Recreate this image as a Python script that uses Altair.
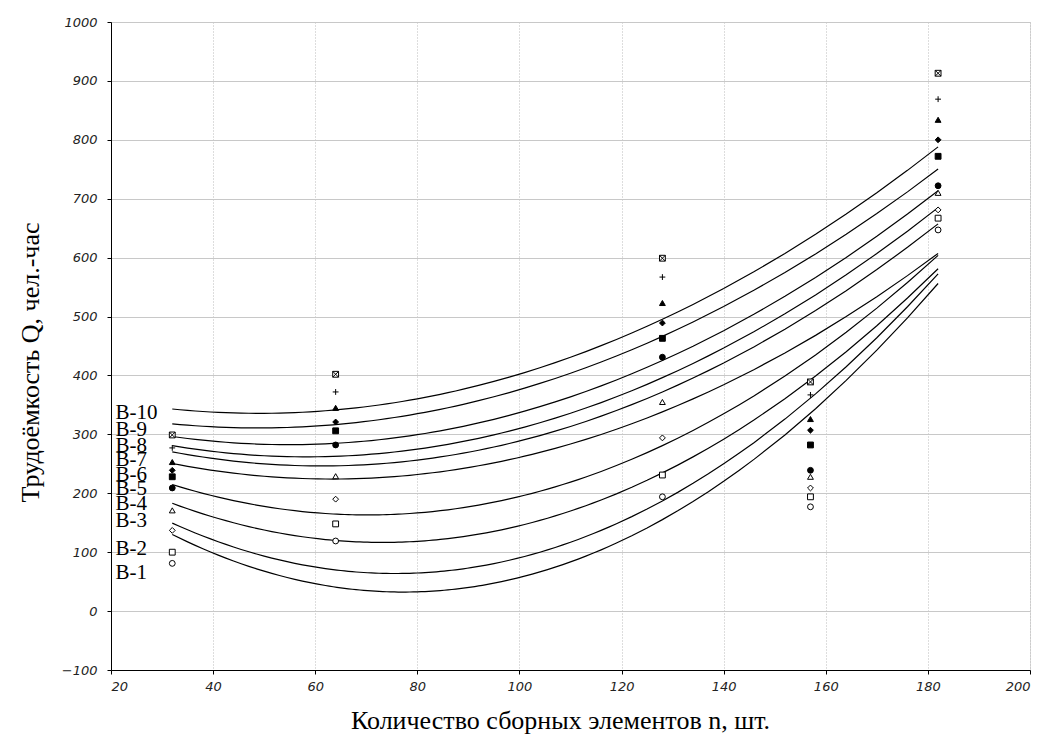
import altair as alt
import pandas as pd

series = ["B-1", "B-2", "B-3", "B-4", "B-5", "B-6", "B-7", "B-8", "B-9", "B-10"]
n_values = [32, 64, 128, 157, 182]

# Трудоёмкость Q (чел.-час) per series at each n
q_b1 = [81, 119, 194, 177, 647]
q_b2 = [100, 148, 231, 194, 667]
q_b3 = [137, 190, 294, 209, 681]
q_b4 = [171, 229, 355, 228, 710]
q_b5 = [209, 282, 431, 239, 722]
q_b6 = [228, 306, 463, 282, 772]
q_b7 = [239, 321, 489, 307, 800]
q_b8 = [253, 345, 523, 326, 834]
q_b9 = [277, 372, 567, 367, 869]
q_b10 = [299, 402, 599, 389, 913]
all_q = [q_b1, q_b2, q_b3, q_b4, q_b5, q_b6, q_b7, q_b8, q_b9, q_b10]

filled = [False, False, False, False, True, True, True, True, False, False]
shapes = [
    "circle", "square", "diamond", "triangle-up", "circle", "square", "diamond",
    "triangle-up", "M0,-1V1M-1,0H1",
    "M-1,-1H1V1H-1Z M-1,-1L1,1 M-1,1L1,-1",
]
sizes = [34, 34, 22, 34, 40, 34, 26, 40, 30, 34]

label_n = [20.9] * 10
label_q = [65, 105, 153, 182, 207, 231, 256, 280, 307, 337]

rows = []
for s, qs, f in zip(series, all_q, filled):
    for n, q in zip(n_values, qs):
        rows.append({"n": n, "Q": q, "series": s, "fillc": "black" if f else "white"})
df = pd.DataFrame(rows)

labels_df = pd.DataFrame({"n": label_n, "Q": label_q, "series": series})

x_scale = alt.Scale(domain=[20, 200], nice=False, zero=False)
y_scale = alt.Scale(domain=[-100, 1000], nice=False, zero=False)

x_axis = alt.Axis(
    values=list(range(20, 201, 20)), format="d", title="Количество сборных элементов  n, шт.",
    titleFont="Liberation Serif", titleFontSize=26, titleFontWeight="normal", titleColor="black",
    titleX=449, titleY=50, titleBaseline="middle",
    labelFont="DejaVu Sans", labelFontStyle="italic", labelFontSize=13, labelColor="#222",
    labelPadding=6, tickSize=4, tickColor="black", domainColor="black",
    gridColor="#bbbbbb", gridDash=[1, 2], gridWidth=1,
)
y_axis = alt.Axis(
    values=list(range(-100, 1001, 100)), format="d", title="Трудоёмкость Q, чел.-час",
    titleFont="Liberation Serif", titleFontSize=26, titleFontWeight="normal", titleColor="black",
    titleX=-81, titleY=340, titleAngle=-90, titleBaseline="middle", titleAlign="center",
    labelFont="DejaVu Sans", labelFontStyle="italic", labelFontSize=13, labelColor="#222",
    labelPadding=10, tickSize=4, tickColor="black", domainColor="black",
    gridColor="#c8c8c8", gridWidth=1,
)

base = alt.Chart(df)

lines = base.transform_regression(
    "n", "Q", groupby=["series"], method="poly", order=2
).mark_line(color="black", strokeWidth=1.2).encode(
    x=alt.X("n:Q", scale=x_scale, axis=x_axis),
    y=alt.Y("Q:Q", scale=y_scale, axis=y_axis),
    detail="series:N",
)

points = base.mark_point(strokeWidth=1, opacity=1, stroke="black").encode(
    x=alt.X("n:Q", scale=x_scale),
    y=alt.Y("Q:Q", scale=y_scale),
    shape=alt.Shape("series:N", scale=alt.Scale(domain=series, range=shapes), legend=None),
    size=alt.Size("series:N", scale=alt.Scale(domain=series, range=sizes), legend=None),
    fill=alt.Fill("fillc:N", scale=None),
)

labels = alt.Chart(labels_df).mark_text(
    align="left", baseline="middle", font="Liberation Serif", fontSize=21, color="black"
).encode(
    x=alt.X("n:Q", scale=x_scale),
    y=alt.Y("Q:Q", scale=y_scale),
    text="series:N",
)

chart = alt.layer(lines, points, labels).properties(
    width=919, height=648,
    autosize=alt.AutoSizeParams(type="none"),
    padding={"left": 103, "top": 14, "right": 4, "bottom": 73},
).configure_view(stroke="black", strokeWidth=1.5).configure(background="white")

chart.save("out.html", embed_options={"renderer": "svg", "actions": False})
